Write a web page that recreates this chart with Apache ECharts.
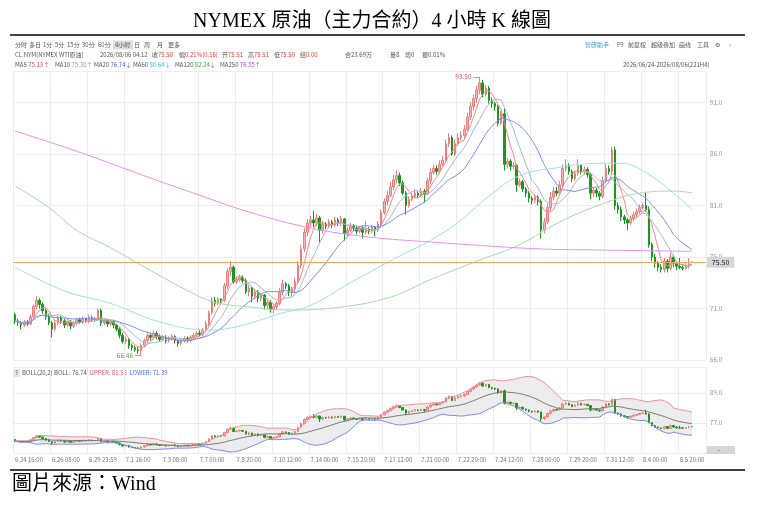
<!DOCTYPE html>
<html>
<head>
<meta charset="utf-8">
<script src="https://cdn.jsdelivr.net/npm/echarts@6.0.0/dist/echarts.min.js"></script>
<style>
html,body{margin:0;padding:0;background:#fff}
#main{width:758px;height:513px}
</style>
</head>
<body>
<div id="main"></div>
<script>
var myChart = echarts.init(document.getElementById('main'));

// x axis labels, one every 12 bars
var tickLabels = ['6.24 16:00','6.26 08:00','6.29 23:59','7.1 16:00','7.3 08:00','7.7 00:00','7.8 20:00',
  '7.10 12:00','7.14 00:00','7.15 20:00','7.17 12:00','7.21 00:00','7.22 20:00','7.24 12:00',
  '7.28 00:00','7.29 20:00','7.31 12:00','8.4 00:00','8.5 20:00'];

// 4h bars: [open, close, low, high]
var kData = [
[70.4,69.8,69.5,70.6],[69.8,69.6,69.3,70.0],[69.6,69.4,69.0,69.8],[69.4,69.7,69.2,69.9],[69.7,69.5,69.3,69.9],
[69.5,70.2,69.4,70.4],[70.2,71.2,70.0,71.4],[71.2,71.8,70.9,72.2],[71.8,71.4,71.0,72.0],[71.4,70.8,70.5,71.6],
[70.8,70.2,69.9,71.0],[70.2,69.6,69.4,70.5],[69.6,69.0,68.2,69.8],[69.0,69.6,68.8,69.9],[69.6,70.1,69.4,70.3],
[70.1,69.8,69.5,70.3],[69.8,69.4,69.1,70.0],[69.4,69.7,69.2,70.0],[69.7,69.3,69.0,69.9],[69.3,69.6,69.1,69.8],
[69.6,69.9,69.4,70.1],[69.9,69.7,69.5,70.1],[69.7,70.0,69.5,70.2],[70.0,69.8,69.6,70.1],[69.8,70.1,69.6,70.4],
[70.1,69.9,69.7,70.3],[69.9,70.0,69.7,70.2],[70.0,70.8,69.8,71.0],[70.8,69.6,69.3,71.0],[69.6,69.8,69.4,70.0],
[69.8,69.5,69.2,70.0],[69.5,69.7,69.3,69.9],[69.7,69.4,69.1,69.9],[69.4,69.0,68.8,69.5],[69.0,68.4,68.1,69.2],
[68.4,67.8,67.6,68.6],[67.8,68.0,67.5,68.3],[68.0,67.4,67.1,68.1],[67.4,67.2,66.9,67.6],[67.2,67.0,66.8,67.4],
[67.0,66.9,66.6,67.3],[66.9,67.4,66.46,67.6],[67.4,67.9,67.2,68.1],[67.9,68.4,67.7,68.7],[68.4,68.2,67.9,68.6],
[68.2,68.6,68.0,68.9],[68.6,68.3,68.0,68.8],[68.3,68.0,67.8,68.5],[68.0,68.2,67.8,68.4],[68.2,67.9,67.6,68.4],
[67.9,68.1,67.7,68.3],[68.1,68.3,67.9,68.5],[68.3,67.9,67.6,68.4],[67.9,67.6,67.3,68.0],[67.6,67.9,67.4,68.1],
[67.9,68.1,67.7,68.3],[68.1,67.9,67.7,68.3],[67.9,68.2,67.7,68.4],[68.2,68.4,68.0,68.6],[68.4,68.6,68.2,68.8],
[68.6,68.5,68.3,68.9],[68.5,68.9,68.3,69.1],[68.9,69.5,68.7,69.8],[69.5,70.6,69.3,70.8],[70.6,71.8,70.4,72.1],
[71.8,71.5,71.2,72.1],[71.5,71.9,71.3,72.1],[71.9,71.8,71.5,72.0],[71.8,73.2,71.6,73.5],[73.2,74.6,72.9,74.9],
[74.6,75.0,74.2,75.6],[75.0,73.6,73.4,75.2],[73.6,73.8,73.4,74.1],[73.8,74.0,73.6,74.3],[74.0,73.7,73.5,74.2],
[73.7,72.6,72.4,73.9],[72.6,73.0,72.2,73.3],[73.0,72.2,71.6,73.1],[72.2,72.6,71.9,72.9],[72.6,72.0,71.6,72.8],
[72.0,72.3,71.7,72.5],[72.3,71.3,70.9,72.4],[71.3,71.6,70.9,71.9],[71.6,70.9,70.6,71.8],[70.9,71.2,70.5,71.4],
[71.2,71.5,70.9,71.7],[71.5,72.6,71.3,73.0],[72.6,73.4,72.3,73.8],[73.4,73.2,72.9,73.6],[73.2,72.6,72.2,73.4],
[72.6,72.9,72.2,73.1],[72.9,73.6,72.6,74.0],[73.6,75.2,73.4,75.6],[75.2,76.8,74.9,77.2],[76.8,78.4,76.5,78.8],
[78.4,79.3,78.0,79.7],[79.3,79.6,78.9,80.0],[79.6,79.3,78.9,80.5],[79.3,79.8,79.0,80.2],[79.8,78.6,77.4,80.0],
[78.6,79.2,78.3,79.5],[79.2,79.0,78.7,79.4],[79.0,79.4,78.8,79.7],[79.4,79.1,78.8,79.6],[79.1,79.6,78.9,79.9],
[79.6,79.3,79.0,79.8],[79.3,79.7,79.0,80.0],[79.7,78.3,77.6,79.8],[78.3,78.6,78.0,78.9],[78.6,79.0,78.4,79.3],
[79.0,78.8,78.5,79.2],[78.8,78.5,78.2,79.0],[78.5,78.8,78.3,79.0],[78.8,78.4,77.8,79.0],[78.4,78.7,78.2,79.5],
[78.7,78.5,78.2,78.9],[78.5,78.9,78.3,79.1],[78.9,78.6,78.0,79.0],[78.6,79.2,78.4,79.5],[79.2,80.3,79.0,80.6],
[80.3,81.4,80.1,81.7],[81.4,82.0,81.0,82.4],[82.0,82.8,81.8,83.3],[82.8,83.5,82.5,84.0],[83.5,83.9,83.2,84.4],
[83.9,83.2,82.9,84.2],[83.2,82.2,82.0,83.4],[82.2,81.0,80.1,82.4],[81.0,81.6,80.8,81.9],[81.6,81.9,81.4,82.2],
[81.9,82.2,81.7,82.6],[82.2,82.0,81.7,82.4],[82.0,82.4,81.8,82.7],[82.4,82.1,81.3,82.6],[82.1,83.4,82.0,83.7],
[83.4,84.2,83.1,84.6],[84.2,84.6,84.0,85.0],[84.6,84.3,84.0,84.9],[84.3,85.0,84.1,85.4],[85.0,85.4,84.8,85.8],
[85.4,87.0,85.2,87.4],[87.0,87.6,86.7,88.0],[87.6,86.0,85.8,87.8],[86.0,87.0,85.8,87.4],[87.0,87.6,86.8,88.0],
[87.6,87.8,87.3,88.2],[87.8,88.4,87.5,88.8],[88.4,89.6,88.2,90.0],[89.6,90.6,89.3,91.0],[90.6,91.4,90.2,91.8],
[91.4,92.2,91.0,92.6],[92.2,92.9,91.8,93.5],[92.9,91.8,91.5,93.2],[91.8,92.4,91.6,92.7],[92.4,91.2,90.9,92.6],
[91.2,90.9,90.5,91.5],[90.9,90.6,90.2,91.1],[90.6,89.0,88.7,90.8],[89.0,89.9,88.8,90.2],[89.9,85.0,84.4,90.4],
[85.0,85.3,84.6,85.6],[85.3,84.8,84.4,85.5],[84.8,84.9,84.5,85.2],[84.9,83.0,82.3,85.0],[83.0,83.3,82.8,83.6],
[83.3,82.6,82.3,83.5],[82.6,82.2,81.8,82.8],[82.2,81.7,81.3,82.4],[81.7,81.5,81.1,81.9],[81.5,81.8,81.2,82.0],
[81.8,81.4,81.0,82.0],[81.4,78.6,77.8,81.6],[78.6,79.4,78.3,79.8],[79.4,80.8,79.2,81.2],[80.8,81.8,80.5,82.3],
[81.8,82.4,81.5,82.8],[82.4,82.2,81.9,82.8],[82.2,83.0,82.0,83.4],[83.0,84.6,82.8,85.0],[84.6,84.9,84.3,85.5],
[84.9,84.3,84.0,85.1],[84.3,83.6,83.3,84.5],[83.6,84.1,83.4,84.4],[84.1,84.9,83.9,85.5],[84.9,84.3,84.0,85.0],
[84.3,84.5,84.0,84.8],[84.5,84.0,83.7,84.7],[84.0,82.2,81.6,84.2],[82.2,82.5,81.8,82.8],[82.5,82.2,81.8,82.7],
[82.2,81.9,81.5,82.4],[81.9,83.4,81.7,83.8],[83.4,84.6,83.2,85.0],[84.6,84.3,84.0,84.9],[84.3,86.4,84.1,86.7],
[86.4,81.0,80.6,86.7],[81.0,80.6,80.2,81.3],[80.6,79.9,79.5,80.9],[79.9,79.6,79.2,80.1],[79.6,79.3,78.6,79.8],
[79.3,79.7,79.1,80.0],[79.7,80.1,79.5,80.4],[80.1,80.4,79.9,80.7],[80.4,80.8,80.2,81.1],[80.8,81.0,80.6,81.2],
[81.0,80.6,80.4,82.3],[80.6,77.2,76.9,80.9],[77.2,76.0,75.6,77.4],[76.0,75.4,75.0,76.3],[75.4,75.0,74.6,75.6],
[75.0,74.8,74.5,75.3],[74.8,75.6,74.5,75.9],[75.6,74.9,74.5,75.8],[74.9,76.0,74.7,76.4],[76.0,75.4,75.0,76.2],
[75.4,75.1,74.7,75.6],[75.1,75.0,74.8,75.9],[75.0,74.9,74.7,75.3],[74.9,75.2,74.8,75.4],[75.2,75.34,74.9,75.9],
[75.51,75.50,75.50,75.51]
];

// long moving averages at some bars: [bar index, value]
var ma60Read = [[0,75.0],[10,73.5],[18,72.5],[31,71.5],[47,69.7],[63,68.9],[73,69.3],[86,70.5],[96,71.3],
  [109,73.5],[125,76.1],[135,77.6],[145,79.6],[154,81.9],[164,83.9],[177,84.7],[190,85.1],[197,85.1],
  [205,84.2],[214,82.2],[220,80.64]];
var ma120Read = [[0,82.9],[11,80.8],[20,78.6],[31,76.9],[44,74.7],[57,72.6],[65,71.6],[76,71.15],[89,70.85],
  [106,71.15],[122,72.1],[135,73.8],[151,75.7],[164,77.2],[177,79.4],[190,81.05],[203,82.2],[214,82.4],[220,82.24]];
var ma250Read = [[0,88.23],[15,86.78],[28,85.42],[44,83.67],[57,82.31],[76,80.37],[96,78.82],[115,77.94],
  [135,77.46],[154,77.07],[171,76.78],[190,76.68],[220,76.55]];

var lastPrice = 75.50;
var highMark = [151, 93.50];
var lowMark = [41, 66.46];

// ---------------------------------------------------------------
var barSlots = 225;   // 221 bars + a little empty room at the right
var categories = [];
for (var i = 0; i < barSlots; i++) categories.push(String(i));

function movingAvg(n) {
  return kData.map(function (d, i) {
    var s = 0, c = 0;
    for (var j = Math.max(0, i - n + 1); j <= i; j++) { s += kData[j][1]; c++; }
    return +(s / c).toFixed(3);
  });
}
function fromRead(pts) {
  var a = kData.map(function () { return null; });
  pts.forEach(function (p) { a[p[0]] = p[1]; });
  return a;
}
var ma5 = movingAvg(5), ma10 = movingAvg(10), ma20 = movingAvg(20);
var bollUp = [], bollLow = [], bollGap = [];
kData.forEach(function (d, i) {
  var from = Math.max(0, i - 19), n = i - from + 1, v = 0;
  for (var j = from; j <= i; j++) v += Math.pow(kData[j][1] - ma20[i], 2);
  var sd = Math.sqrt(v / n);
  bollUp.push(+(ma20[i] + 2 * sd).toFixed(3));
  bollLow.push(+(ma20[i] - 2 * sd).toFixed(3));
  bollGap.push(+(4 * sd).toFixed(3));
});

var FONT = '"Noto Sans CJK SC","Noto Sans",sans-serif';
var upFill = '#f8b4b4', upLine = '#ee7d7d', downCol = '#169a1c';

function lineSeries(name, data, color, xi, smooth) {
  return {
    name: name, type: 'line', data: data, xAxisIndex: xi, yAxisIndex: xi,
    symbol: 'none', smooth: smooth ? 0.4 : false, connectNulls: true, z: 3,
    lineStyle: { color: color, width: 1 }
  };
}

// small header / legend texts (zrender rich parts take "fill")
function txt(x, y, text, rich) {
  return {
    type: 'text', x: x, y: y, silent: true,
    style: { text: text, rich: rich, fontSize: 6, fontFamily: FONT, fill: '#555',
      verticalAlign: 'middle', textVerticalAlign: 'middle' }
  };
}
function part(c) { return { fill: c, fontSize: 6, fontFamily: FONT }; }
function rich(c) { return { v: part(c) }; }

var graphics = [
  { type: 'text', x: 372, y: 22, silent: true,
    style: { text: 'NYMEX 原油（主力合約）4 小時 K 線圖', fontSize: 20,
      fontFamily: '"Liberation Serif","Noto Sans CJK TC",serif', fill: '#000',
      align: 'center', textAlign: 'center', verticalAlign: 'middle', textVerticalAlign: 'middle' } },
  { type: 'line', shape: { x1: 10, y1: 35, x2: 745, y2: 35 }, style: { stroke: '#000', lineWidth: 1.5 } },
  { type: 'line', shape: { x1: 10, y1: 470, x2: 745, y2: 470 }, style: { stroke: '#000', lineWidth: 1.5 } },
  { type: 'text', x: 12, y: 485, silent: true,
    style: { text: '圖片來源：Wind', fontSize: 20,
      fontFamily: '"Liberation Serif","Noto Sans CJK TC",serif', fill: '#000',
      verticalAlign: 'middle', textVerticalAlign: 'middle' } },
  { type: 'rect', shape: { x: 113, y: 40.5, width: 20, height: 9 }, style: { fill: '#dcdcdc' } },
  { type: 'rect', shape: { x: 14, y: 369, width: 6, height: 8 }, style: { fill: '#e4e4e4' } },
  { type: 'rect', shape: { x: 706, y: 446, width: 29, height: 8 }, style: { fill: '#d6d6d6' } }
];
[['分时',15],['多日',29],['1分',43],['5分',55],['15分',67],['30分',82],['60分',98],['4小时',115],
 ['日',134],['周',144],['月',157],['更多',168],['F9',617],['前复权',628],['超级叠加',651],['画线',679],
 ['工具',697],['⚙',715],['›',729]].forEach(function (t) { graphics.push(txt(t[1], 45, t[0])); });
graphics.push(txt(585, 45, '{v|智研助手}', rich('#3fa2b8')));
[['CL.NYM[NYMEX WTI原油]',15],['2026/08/06 04:12',100],['收{v|75.50}',152],['幅{v|0.21%(0.16)}',179],
 ['开{v|75.51}',222],['高{v|75.51}',248],['低{v|75.50}',274],['结{v|0.00}',300],['合23.69万',345],
 ['量8',390],['增0',405],['振0.01%',422]].forEach(function (t) { graphics.push(txt(t[1], 55, t[0], rich('#e8443f'))); });
[['MA5 {v|75.13↑}',15,'#e8484f'],['MA10 {v|75.30↑}',55,'#7f9dc4'],['MA20 {v|76.74↓}',94,'#4a5de8'],
 ['MA60 {v|80.64↓}',133,'#36c3d6'],['MA120 {v|82.24↓}',175,'#3fae3f'],['MA250 {v|76.55↑}',220,'#c83fd8']]
 .forEach(function (t) { graphics.push(txt(t[1], 64.5, t[0], rich(t[2]))); });
graphics.push(txt(623, 64.5, '2026/06/24-2026/08/06(221H4)'));
graphics.push(txt(15, 373, '?'));
graphics.push(txt(22, 373, 'BOLL(20,2) BOLL: 76.74  {u|UPPER: 81.58}  {d|LOWER: 71.89}',
  { u: part('#e8557a'), d: part('#4a6cf0') }));
graphics.push(txt(718, 450, '-'));

var xBase = {
  type: 'category', data: categories, boundaryGap: true,
  axisLine: { show: false }, axisTick: { show: false },
  splitLine: { show: true, interval: 11, lineStyle: { color: '#ececec', width: 1 } }
};
var yLabel = { color: '#999', fontSize: 6.5, fontFamily: FONT, margin: 4,
  formatter: function (v) { return v.toFixed(1); }, showMaxLabel: false, showMinLabel: true };

var option = {
  animation: false,
  grid: [
    { left: 13.5, right: 52.2, top: 71.6, height: 288.4 },
    { left: 13.5, right: 52.2, top: 367, height: 86 }
  ],
  xAxis: [
    Object.assign({}, xBase, { gridIndex: 0, axisLabel: { show: false } }),
    Object.assign({}, xBase, { gridIndex: 1,
      axisLabel: { interval: 11, align: 'left', color: '#777', fontSize: 6, fontFamily: FONT, margin: 4,
        formatter: function (v, idx) { return tickLabels[idx / 12] || ''; } } })
  ],
  yAxis: [
    { gridIndex: 0, position: 'right', min: 66, max: 94, interval: 5,
      axisLine: { show: false }, axisTick: { show: false }, axisLabel: yLabel,
      splitLine: { lineStyle: { color: '#ededed' } } },
    { gridIndex: 1, position: 'right', min: 65, max: 99.4, interval: 12,
      axisLine: { show: false }, axisTick: { show: false },
      axisLabel: Object.assign({}, yLabel, { showMinLabel: false }),
      splitLine: { lineStyle: { color: '#ededed' } } }
  ],
  graphic: graphics,
  series: [
    {
      name: 'K', type: 'candlestick', data: kData, xAxisIndex: 0, yAxisIndex: 0, barWidth: 2, z: 2,
      itemStyle: { color: upFill, borderColor: upLine, color0: downCol, borderColor0: downCol, borderWidth: 1 },
      markLine: {
        silent: true, symbol: ['none', 'none'], animation: false,
        data: [
          { yAxis: lastPrice, lineStyle: { color: '#f6a45e', width: 1, type: 'solid' },
            label: { position: 'end', distance: 1, formatter: lastPrice.toFixed(2), fontSize: 7, color: '#222',
              backgroundColor: '#d6d6d6', padding: [2, 5], fontFamily: FONT } },
          [{ coord: [highMark[0] - 2, highMark[1]], lineStyle: { color: '#9aabb8', width: 1, type: 'solid' },
             label: { position: 'start', distance: 2, formatter: highMark[1].toFixed(2), fontSize: 6.5,
               color: '#e05555', fontFamily: FONT } },
           { coord: highMark }],
          [{ coord: [lowMark[0] - 2, lowMark[1]], lineStyle: { color: '#9aabb8', width: 1, type: 'solid' },
             label: { position: 'start', distance: 2, formatter: lowMark[1].toFixed(2), fontSize: 6.5,
               color: '#4fa84f', fontFamily: FONT } },
           { coord: lowMark }]
        ]
      }
    },
    lineSeries('MA5', ma5, '#f08a8a', 0),
    lineSeries('MA10', ma10, '#a3b7d4', 0),
    lineSeries('MA20', ma20, '#7c8cf2', 0),
    lineSeries('MA60', fromRead(ma60Read), '#9ae2ec', 0, true),
    lineSeries('MA120', fromRead(ma120Read), '#a6dba6', 0, true),
    lineSeries('MA250', fromRead(ma250Read), '#e690f0', 0, true),

    { name: 'bandBase', type: 'line', data: bollLow, xAxisIndex: 1, yAxisIndex: 1, stack: 'band',
      symbol: 'none', lineStyle: { opacity: 0 }, z: 1 },
    { name: 'bandFill', type: 'line', data: bollGap, xAxisIndex: 1, yAxisIndex: 1, stack: 'band',
      symbol: 'none', lineStyle: { opacity: 0 }, areaStyle: { color: '#ececec', opacity: 1 }, z: 1 },
    {
      name: 'K2', type: 'candlestick', data: kData, xAxisIndex: 1, yAxisIndex: 1, barWidth: 2, z: 2,
      itemStyle: { color: upFill, borderColor: upLine, color0: downCol, borderColor0: downCol, borderWidth: 1 }
    },
    lineSeries('BOLL', ma20, '#7a7a7a', 1),
    lineSeries('UPPER', bollUp, '#ef8fa0', 1),
    lineSeries('LOWER', bollLow, '#7b88f5', 1)
  ]
};

myChart.setOption(option);
</script>
</body>
</html>
